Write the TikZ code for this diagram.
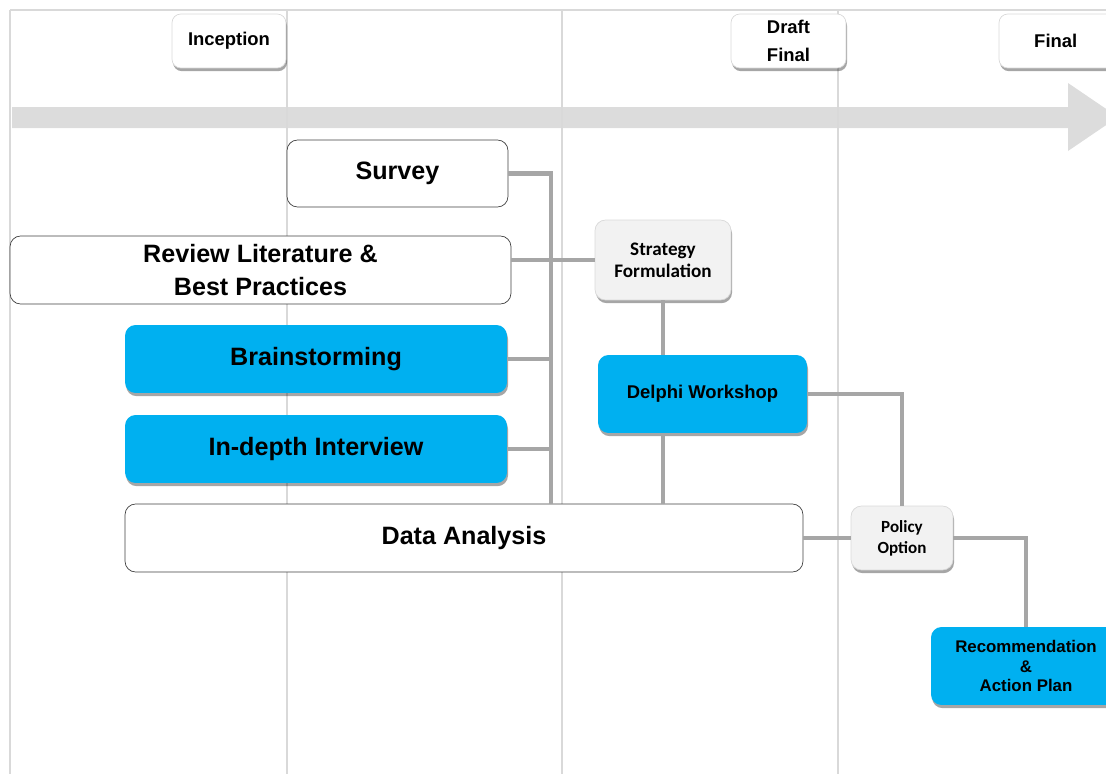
\documentclass[tikz,border=0pt]{standalone}
\usepackage{fontspec}
\setmainfont{Liberation Sans}
\newfontfamily\calibrifont{Carlito}
\usetikzlibrary{shapes,shadows}
\definecolor{gridgray}{HTML}{D9D9D9}
\definecolor{arrowgray}{HTML}{DCDCDC}
\definecolor{linkgray}{HTML}{A6A6A6}
\definecolor{boxblue}{HTML}{00B0F0}
\definecolor{softgray}{HTML}{F2F2F2}
\tikzstyle{shade}=[drop shadow={shadow xshift=0.6pt, shadow yshift=-1.8pt, opacity=0.35, fill=black}]
\tikzstyle{stage}=[draw=gridgray, fill=white, rounded corners=5pt, shade, align=center, inner sep=0pt, font=\bfseries\fontsize{10.5}{15.9}\selectfont]
\tikzstyle{task}=[draw=black!75, fill=white, rounded corners=6pt, align=center, inner sep=0pt, font=\bfseries\fontsize{14.3}{19.3}\selectfont]
\tikzstyle{bluetask}=[task, draw=none, fill=boxblue, shade]
\tikzstyle{greybox}=[draw=gridgray, fill=softgray, rounded corners=6pt, shade, align=center, inner sep=0pt]
\tikzstyle{link}=[draw=linkgray, line width=2.3pt]
\tikzstyle{grid}=[draw=gridgray, line width=0.6pt]

\begin{document}
\begin{tikzpicture}[x=0.02cm, y=-0.02cm]
    \useasboundingbox (0,0) rectangle (1106,774);
    % Time line arrow in the back
    \fill[arrowgray] (12,107) -- (1068,107) -- (1068,83) -- (1118,117) -- (1068,151) -- (1068,128) -- (12,128) -- cycle;

    % Phase grid
    \path[grid] (10,10) -- (1106,10);
    \foreach \xpos in {10, 287, 562, 838}
        \path[grid] (\xpos,10) -- (\xpos,774);

    % Milestones
    \node[stage, minimum width=2.28cm, minimum height=1.08cm] (inception) at (229,41) {Inception};
    \node[stage, minimum width=2.3cm, minimum height=1.08cm] (draftfinal) at (788.5,41) {Draft\\Final};
    \node[stage, minimum width=2.42cm, minimum height=1.08cm] (final) at (1059.5,41) {Final\hspace{0.15cm}};

    % Tasks
    \node[task, minimum width=4.42cm, minimum height=1.34cm] (survey) at (397.5,173.5) {Survey};
    \node[task, minimum width=10.02cm, minimum height=1.36cm] (review) at (260.5,270) {Review Literature \&\\Best Practices};
    \node[bluetask, minimum width=7.64cm, minimum height=1.36cm] (brain) at (316,359) {Brainstorming};
    \node[bluetask, minimum width=7.64cm, minimum height=1.36cm] (interview) at (316,449) {In-depth Interview};
    \node[task, minimum width=13.56cm, minimum height=1.36cm] (data) at (464,538) {Data Analysis};
    \node[greybox, minimum width=2.72cm, minimum height=1.6cm, font=\calibrifont\bfseries\fontsize{10.9}{12.5}\selectfont] (strategy) at (663,260) {Strategy\\Formulation};
    \node[bluetask, minimum width=4.18cm, minimum height=1.56cm, font=\bfseries\fontsize{10.5}{13}\selectfont] (delphi) at (702.5,394) {Delphi Workshop};
    \node[greybox, minimum width=2.04cm, minimum height=1.28cm, font=\calibrifont\bfseries\fontsize{9.7}{12}\selectfont] (policy) at (902,538) {Policy\\Option};
    \node[bluetask, minimum width=3.8cm, minimum height=1.56cm, font=\bfseries\fontsize{9.6}{11.3}\selectfont] (rec) at (1026,666) {Recommendation\\\&\\Action Plan};

    % Connect tasks
    \coordinate (bus) at (551,0);
    \path[link] (survey.east) -| (bus |- data.north);
    \foreach \source in {brain, interview}
        \path[link] (\source.east) -- (\source.east -| bus);
    \path[link] (strategy.west) -- (strategy.west -| review.east);
    \path[link] (strategy.south) -- (strategy.south |- delphi.north);
    \path[link] (strategy.south |- delphi.south) -- (strategy.south |- data.north);
    \path[link] (delphi.east) -| (policy.north);
    \path[link] (data.east) -- (policy.west);
    \path[link] (policy.east) -| (rec.north);
\end{tikzpicture}
\end{document}
